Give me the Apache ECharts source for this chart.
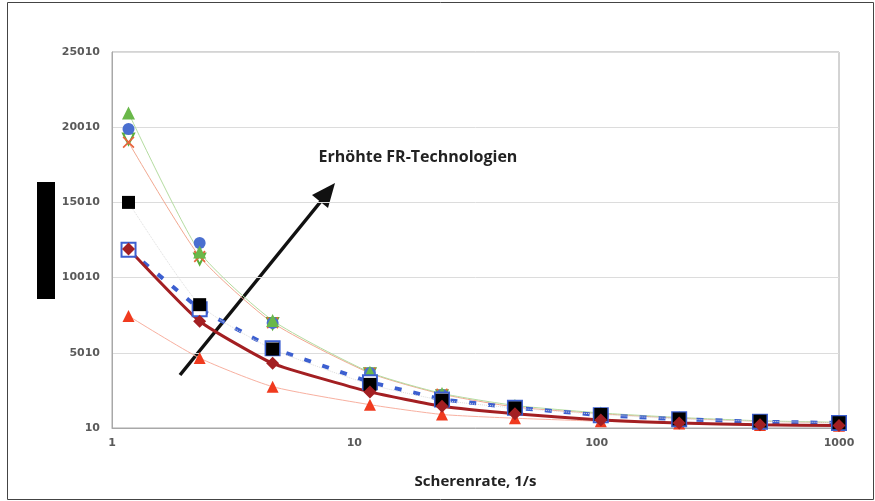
<!DOCTYPE html>
<html>
<head>
<meta charset="utf-8">
<script src="https://cdn.jsdelivr.net/npm/echarts@6/dist/echarts.min.js"></script>
<style>
  html, body { margin: 0; padding: 0; background: #fff; }
  #chart { width: 875px; height: 501px; }
</style>
</head>
<body>
<div id="chart"></div>
<script>
// Scherrate (x, log) und Viskositaeten je Serie
const shearRates = [1.17, 2.3, 4.6, 11.6, 23, 46, 104, 219, 472, 1000]
const xTickLabels = ['1', '10', '100', '1000']
const yTickLabels = ['10', '5010', '10010', '15010', '20010', '25010']

const viscBlackSquare = [15000, 8200, 5250, 2900, 1850, 1330, 900, 600, 450, 350]
const viscBlueSquare = [11850, 7900, 5300, 3050, 1900, 1350, 850, 580, 420, 330]
const viscDarkRed = [11900, 7100, 4300, 2400, 1450, 950, 530, 330, 220, 160]
const viscRedTriangle = [7450, 4650, 2750, 1550, 900, 650, 450, 300, 200, 150]
const viscGreenTriangle = [20950, 11700, 7150, 3700, 2300, 1500, 1000, 700, 480, 380]
const viscBlueCircle = [19880, 12300, 6980, 3650, 2200, 1400, 950, 650, 450, 350]
const viscGreenOpen = [19220, 11240, 6950, 3600, 2150, 1350, 900, 620, 430, 330]
const viscRedCross = [19000, 11400, 7000, 3650, 2250, 1400, 950, 650, 450, 350]

const pairs = (ys) => shearRates.map((x, i) => [x, ys[i]])

const crossPath = 'path://M0,1L1,0L5,4L9,0L10,1L6,5L10,9L9,10L5,6L1,10L0,9L4,5Z'
const downTriPath = 'path://M0,0L10,0L5,9Z'

const thin = (name, data, color, symbol, size, extra = {}) => ({
  name,
  type: 'line',
  data: pairs(data),
  symbol,
  symbolSize: size,
  smooth: 0.2,
  lineStyle: { color, width: 1 },
  itemStyle: { color },
  ...extra
})

const chart = echarts.init(document.getElementById('chart'), null, { renderer: 'canvas' })

const axisFont = {
  fontFamily: 'DejaVu Sans',
  fontWeight: 'bold',
  fontSize: 11,
  color: '#5a5a5a'
}

chart.setOption({
  backgroundColor: '#fff',
  animation: false,
  grid: {
    left: 112, top: 52, right: 36, bottom: 73,
    show: true, borderColor: '#a8a8a8', borderWidth: 1
  },
  xAxis: {
    type: 'log',
    logBase: 10,
    min: 1,
    max: 1000,
    name: 'Scherenrate, 1/s',
    nameLocation: 'middle',
    nameGap: 46,
    nameTextStyle: { fontFamily: 'Open Sans', fontWeight: 'bold', fontSize: 15, color: '#222' },
    axisLine: { lineStyle: { color: '#a8a8a8' } },
    axisTick: { show: false },
    splitLine: { show: false },
    axisLabel: {
      ...axisFont,
      margin: 10,
      formatter: (v) => xTickLabels[Math.round(Math.log10(v))]
    }
  },
  yAxis: {
    type: 'value',
    min: 0,
    max: 25000,
    interval: 5000,
    axisLine: { show: true, lineStyle: { color: '#a8a8a8' } },
    axisTick: { show: false },
    splitLine: { lineStyle: { color: '#dcdcdc' } },
    axisLabel: {
      ...axisFont,
      margin: 12,
      formatter: (v) => yTickLabels[Math.round(v / 5000)]
    }
  },
  series: [
    thin('greenOpen', viscGreenOpen, '#5cae3c', downTriPath, 11, {
      lineStyle: { width: 0 },
      itemStyle: { color: '#fff', borderColor: '#5cae3c', borderWidth: 2 }
    }),
    thin('redCross', viscRedCross, '#e8643c', crossPath, 12, {
      lineStyle: { color: '#f2a890', width: 1 }
    }),
    thin('blueCircle', viscBlueCircle, '#4a6fd0', 'circle', 12, { lineStyle: { width: 0 } }),
    thin('greenTriangle', viscGreenTriangle, '#6ab84a', 'triangle', 13, {
      lineStyle: { color: '#b4dca0', width: 1 }
    }),
    thin('redTriangle', viscRedTriangle, '#f03a1e', 'triangle', 12, {
      lineStyle: { color: '#f8b0a0', width: 1 }
    }),
    {
      name: 'blueSquare',
      type: 'line',
      data: pairs(viscBlueSquare),
      symbol: 'rect',
      symbolSize: 14,
      lineStyle: { color: '#3c5fd0', width: 4, type: [7, 12] },
      itemStyle: { color: '#ffffff', borderColor: '#3c5fd0', borderWidth: 2 }
    },
    thin('blackSquare', viscBlackSquare, '#000', 'rect', 13, {
      lineStyle: { color: '#dedede', width: 1, type: 'dotted' }
    }),
    {
      name: 'darkRed',
      type: 'line',
      data: pairs(viscDarkRed),
      symbol: 'diamond',
      symbolSize: 13,
      smooth: 0.15,
      lineStyle: { color: '#a31f22', width: 3 },
      itemStyle: { color: '#a31f22' }
    }
  ],
  graphic: [
    // Rahmen
    {
      type: 'rect',
      shape: { x: 7.5, y: 2.5, width: 866, height: 497 },
      style: { fill: null, stroke: '#444', lineWidth: 1 },
      silent: true
    },
    // geschwaerzter y-Achsentitel
    {
      type: 'rect',
      shape: { x: 37, y: 182, width: 18, height: 117 },
      style: { fill: '#000' }
    },
    // Pfeil
    {
      type: 'line',
      shape: { x1: 180, y1: 375, x2: 322, y2: 200 },
      style: { stroke: '#111', lineWidth: 3.5 }
    },
    {
      type: 'polygon',
      shape: { points: [[335, 183], [328, 208], [312, 195]] },
      style: { fill: '#111' }
    },
    {
      type: 'text',
      x: 418,
      y: 157,
      style: {
        text: 'Erhöhte FR-Technologien',
        fontFamily: 'Open Sans',
        fontWeight: 'bold',
        fontSize: 16,
        fill: '#222',
        align: 'center',
        verticalAlign: 'middle'
      }
    }
  ]
})
</script>
</body>
</html>
